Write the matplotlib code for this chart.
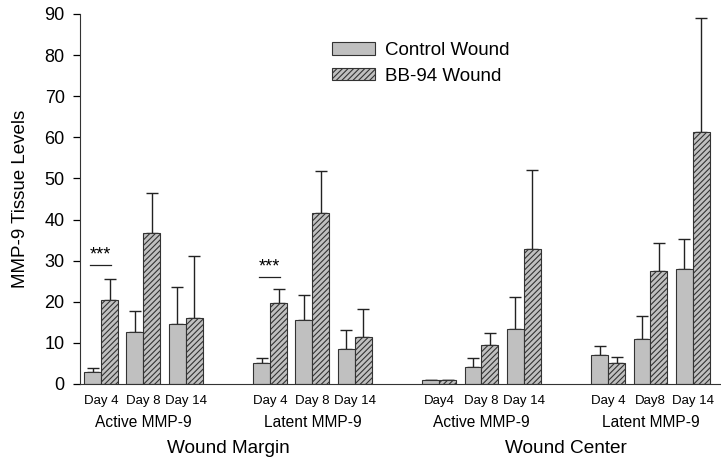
import numpy as np
import matplotlib
matplotlib.use("Agg")
import matplotlib.pyplot as plt

plt.rcParams['font.family'] = ['Liberation Sans', 'DejaVu Sans']
plt.rcParams['hatch.linewidth'] = 0.8

# positions of the day groups (gaps between MMP-9 blocks)
pos = [0, 1, 2, 4, 5, 6, 8, 9, 10, 12, 13, 14]
day_labels = ['Day 4', 'Day 8', 'Day 14', 'Day 4', 'Day 8', 'Day 14',
              'Day4', 'Day 8', 'Day 14', 'Day 4', 'Day8', 'Day 14']

control = [2.8, 12.6, 14.5, 5.0, 15.6, 8.4, 1.0, 4.2, 13.5, 7.0, 10.9, 27.9]
control_err = [1.2, 5.1, 9.1, 1.3, 6.1, 4.8, 0.0, 2.2, 7.6, 2.2, 5.7, 7.4]
bb94 = [20.4, 36.8, 16.0, 19.8, 41.7, 11.4, 1.0, 9.6, 32.8, 5.1, 27.6, 61.2]
bb94_err = [5.1, 9.7, 15.1, 3.2, 10.0, 6.9, 0.0, 2.9, 19.3, 1.5, 6.7, 27.8]

mmp_labels = ['Active MMP-9', 'Latent MMP-9', 'Active MMP-9', 'Latent MMP-9']
mmp_pos = [1, 5, 9, 13]
site_labels = ['Wound Margin', 'Wound Center']
site_pos = [3, 11]

# significance marks (group position, bar height)
sig_pos = [0, 4]
sig_y = [29.0, 26.0]

fig = plt.figure(figsize=(7.21, 4.62), dpi=100)
ax = fig.add_axes([80/721, 78/462, 641/721, 370/462])

x = np.array(pos, dtype=float)
w = 0.4
ax.bar(x - w/2, control, w, color='#c0c0c0', edgecolor='#333333', linewidth=0.8,
       label='Control Wound', zorder=2)
ax.bar(x + w/2, bb94, w, color='#c0c0c0', edgecolor='#333333', linewidth=0.8,
       hatch='//////', label='BB-94 Wound', zorder=2)
ax.errorbar(x - w/2, control, yerr=[np.zeros(len(control)), control_err], fmt='none',
            ecolor='#222222', elinewidth=1.0, capsize=4.5, capthick=1.0, zorder=1)
ax.errorbar(x + w/2, bb94, yerr=[np.zeros(len(bb94)), bb94_err], fmt='none',
            ecolor='#222222', elinewidth=1.0, capsize=4.5, capthick=1.0, zorder=1)

for p, yv in zip(sig_pos, sig_y):
    ax.plot([p - 0.26, p + 0.24], [yv, yv], color='#222222', linewidth=0.9)
    ax.text(p - 0.01, yv + 0.3, '***', ha='center', va='bottom', fontsize=13)

ax.set_xlim(-0.5, 14.67)
ax.set_ylim(0, 90)
ax.set_yticks(np.arange(0, 91, 10))
ax.set_xticks(pos)
ax.set_xticklabels(day_labels, fontsize=9.5)
ax.tick_params(axis='x', length=0, pad=8)
ax.tick_params(axis='y', labelsize=13, length=5, direction='out', width=0.9, pad=6)
ax.spines['top'].set_visible(False)
ax.spines['right'].set_visible(False)
ax.spines['left'].set_color('#333333')
ax.spines['bottom'].set_color('#333333')
ax.set_ylabel('MMP-9 Tissue Levels', fontsize=13.5, labelpad=11)

tr = ax.get_xaxis_transform()
for lab, p in zip(mmp_labels, mmp_pos):
    ax.text(p, -0.105, lab, transform=tr, ha='center', va='center', fontsize=11.2)
for lab, p in zip(site_labels, site_pos):
    ax.text(p, -0.175, lab, transform=tr, ha='center', va='center', fontsize=13.7)

ax.legend(loc='upper left', bbox_to_anchor=(0.393, 0.924), frameon=False, fontsize=13.5,
          handlelength=2.3, handleheight=0.65, handletextpad=0.55, labelspacing=0.45,
          borderpad=0, borderaxespad=0)

fig.savefig('out.png', dpi=100)
